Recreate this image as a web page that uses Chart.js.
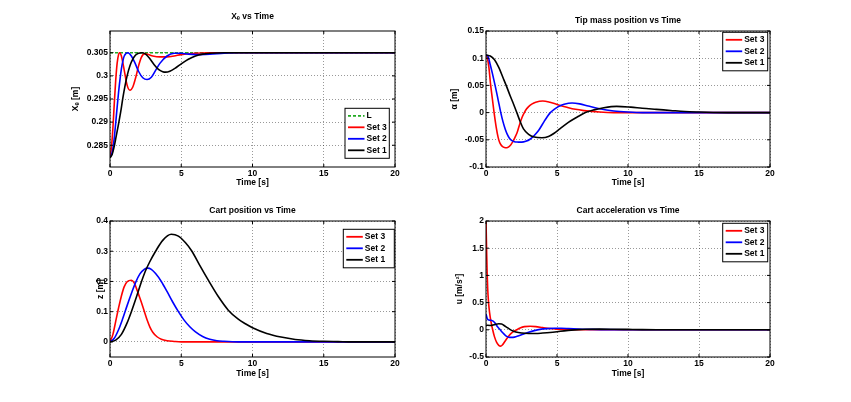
<!DOCTYPE html>
<html>
<head>
<meta charset="utf-8">
<title>Controller sets vs Time</title>
<script src="https://cdn.jsdelivr.net/npm/chart.js@4.4.0/dist/chart.umd.min.js"></script>
<style>
  html, body { margin: 0; padding: 0; background: #fff; }
  #fig { position: relative; width: 851px; height: 402px; overflow: hidden; background: #fff; }
  #fig canvas { position: absolute; }
</style>
</head>
<body>
<div id="fig">
  <canvas id="c-xe" width="425" height="200" style="left:0;top:0"></canvas>
  <canvas id="c-alpha" width="426" height="200" style="left:425px;top:0"></canvas>
  <canvas id="c-z" width="425" height="202" style="left:0;top:200px"></canvas>
  <canvas id="c-u" width="426" height="202" style="left:425px;top:200px"></canvas>
</div>
<script>
// ─── Data ───
const timeTicks = [0, 5, 10, 15, 20];

// Xe vs Time
const xeTicks = [0.285, 0.29, 0.295, 0.3, 0.305];
const xeLTime = [0, 20];
const xeL = [0.305, 0.305];
const xeTime3 = [0, 0.1, 0.2, 0.3, 0.4, 0.5, 0.6, 0.68, 0.8, 1.0, 1.2, 1.4, 1.6, 1.8, 2.0, 2.2, 2.45, 2.7, 3.0, 3.5, 4.0, 4.5, 5.0, 6.0, 7.0, 20];
const xeSet3 = [0.2825, 0.2845, 0.2885, 0.2940, 0.2990, 0.3027, 0.3046, 0.3050, 0.3043, 0.3012, 0.2980, 0.2969, 0.2976, 0.2996, 0.3021, 0.3040, 0.3048, 0.3046, 0.3043, 0.3041, 0.3041, 0.3043, 0.3046, 0.3049, 0.3050, 0.3050];
const xeTime2 = [0, 0.1, 0.2, 0.3, 0.4, 0.5, 0.6, 0.7, 0.8, 0.9, 1.0, 1.25, 1.5, 1.75, 2.0, 2.3, 2.6, 2.9, 3.2, 3.5, 4.0, 4.5, 5.0, 5.5, 6.0, 7.0, 8.0, 9.0, 20];
const xeSet2 = [0.2825, 0.2829, 0.2842, 0.2866, 0.2898, 0.2932, 0.2964, 0.2992, 0.3015, 0.3032, 0.3043, 0.3050, 0.3043, 0.3028, 0.3010, 0.2996, 0.2992, 0.2997, 0.3012, 0.3027, 0.3043, 0.3049, 0.3049, 0.3047, 0.3046, 0.3047, 0.3049, 0.3050, 0.3050];
const xeTime1 = [0, 0.15, 0.3, 0.45, 0.6, 0.75, 0.9, 1.05, 1.2, 1.4, 1.6, 1.8, 2.0, 2.25, 2.5, 2.8, 3.1, 3.4, 3.7, 3.9, 4.2, 4.6, 5.0, 5.5, 6.0, 6.5, 7.0, 8.0, 20];
const xeSet1 = [0.2823, 0.2830, 0.2848, 0.2872, 0.2896, 0.2922, 0.2952, 0.2978, 0.3000, 0.3022, 0.3036, 0.3045, 0.3049, 0.3050, 0.3047, 0.3037, 0.3024, 0.3014, 0.3009, 0.3008, 0.3010, 0.3017, 0.3026, 0.3036, 0.3043, 0.3047, 0.3049, 0.3050, 0.3050];

// Tip mass position vs Time
const alphaTicks = [-0.1, -0.05, 0, 0.05, 0.1, 0.15];
const alTime3 = [0, 0.1, 0.2, 0.33, 0.45, 0.57, 0.72, 0.85, 0.95, 1.05, 1.15, 1.3, 1.46, 1.6, 1.75, 1.9, 2.05, 2.2, 2.4, 2.55, 2.7, 2.85, 3.0, 3.25, 3.5, 4.0, 4.5, 5.0, 5.7, 6.3, 6.9, 8.0, 9.0, 20];
const alSet3 = [0.106, 0.100, 0.084, 0.050, 0.025, 0.000, -0.027, -0.045, -0.054, -0.059, -0.062, -0.0642, -0.0646, -0.063, -0.059, -0.053, -0.045, -0.036, -0.019, -0.008, 0.000, 0.0065, 0.011, 0.016, 0.019, 0.0213, 0.019, 0.015, 0.0098, 0.006, 0.0037, 0.001, 0, 0];
const alTime2 = [0, 0.15, 0.3, 0.45, 0.64, 0.85, 1.04, 1.2, 1.35, 1.5, 1.65, 1.8, 2.0, 2.25, 2.52, 2.8, 3.1, 3.4, 3.7, 4.1, 4.3, 4.53, 4.8, 5.1, 5.5, 6.06, 6.6, 7.2, 8.0, 9.0, 10, 11, 20];
const alSet2 = [0.106, 0.103, 0.088, 0.072, 0.050, 0.024, 0.000, -0.017, -0.030, -0.040, -0.047, -0.051, -0.0535, -0.0542, -0.0543, -0.0528, -0.049, -0.042, -0.033, -0.016, -0.008, 0.000, 0.006, 0.011, 0.0152, 0.0177, 0.016, 0.012, 0.007, 0.003, 0.001, 0, 0];
const alTime1 = [0, 0.3, 0.6, 0.9, 1.2, 1.42, 1.7, 1.95, 2.17, 2.4, 2.64, 3.0, 3.4, 3.94, 4.4, 4.8, 5.2, 5.8, 6.4, 7.0, 7.6, 8.3, 9.2, 10.2, 11, 12, 13, 14, 15, 16, 17, 20];
const alSet1 = [0.106, 0.104, 0.097, 0.083, 0.064, 0.050, 0.031, 0.015, 0.000, -0.016, -0.030, -0.040, -0.045, -0.0463, -0.044, -0.038, -0.030, -0.018, -0.0085, 0.000, 0.005, 0.009, 0.0115, 0.010, 0.008, 0.006, 0.004, 0.002, 0.001, 0.0003, 0, 0];

// Cart position vs Time
const zTicks = [0, 0.1, 0.2, 0.3, 0.4];
const zTime3 = [0, 0.2, 0.4, 0.6, 0.8, 1.0, 1.2, 1.5, 1.7, 1.85, 2.0, 2.2, 2.4, 2.6, 2.8, 3.0, 3.3, 3.6, 4.0, 4.5, 5.0, 20];
const zSet3 = [0, 0.024, 0.068, 0.112, 0.152, 0.183, 0.199, 0.204, 0.195, 0.178, 0.158, 0.131, 0.102, 0.073, 0.049, 0.032, 0.017, 0.009, 0.004, 0.0015, 0, 0];
const zTime2 = [0, 0.3, 0.6, 0.9, 1.2, 1.5, 1.8, 2.1, 2.4, 2.65, 2.9, 3.2, 3.6, 4.0, 4.4, 4.8, 5.2, 5.6, 6.0, 6.5, 7.0, 7.5, 8.0, 9.0, 20];
const zSet2 = [0, 0.012, 0.040, 0.078, 0.120, 0.160, 0.197, 0.225, 0.240, 0.244, 0.240, 0.226, 0.200, 0.167, 0.132, 0.100, 0.072, 0.050, 0.033, 0.018, 0.009, 0.004, 0.002, 0, 0];
const zTime1 = [0, 0.4, 0.8, 1.2, 1.5, 1.9, 2.2, 2.5, 2.8, 3.2, 3.7, 4.3, 4.8, 5.3, 5.75, 6.3, 6.95, 7.6, 8.3, 9.0, 9.5, 10, 11, 12, 13, 14, 15, 16, 17, 20];
const zSet1 = [0, 0.006, 0.025, 0.063, 0.100, 0.155, 0.198, 0.236, 0.266, 0.300, 0.336, 0.356, 0.350, 0.328, 0.300, 0.253, 0.200, 0.150, 0.105, 0.075, 0.060, 0.047, 0.028, 0.016, 0.008, 0.004, 0.002, 0.001, 0, 0];

// Cart acceleration vs Time
const uTicks = [-0.5, 0, 0.5, 1, 1.5, 2];
const uTime3 = [0, 0.04, 0.08, 0.12, 0.18, 0.25, 0.35, 0.47, 0.6, 0.75, 0.9, 1.03, 1.15, 1.34, 1.5, 1.7, 1.9, 2.16, 2.4, 2.7, 3.1, 3.5, 4.0, 4.5, 5.0, 5.5, 6.0, 7.0, 20];
const uSet3 = [2.0, 1.5, 1.05, 0.75, 0.50, 0.32, 0.15, 0.0, -0.13, -0.23, -0.285, -0.30, -0.28, -0.21, -0.15, -0.085, -0.04, 0.0, 0.033, 0.058, 0.065, 0.058, 0.040, 0.024, 0.013, 0.006, 0.003, 0, 0];
const uTime2 = [0, 0.05, 0.1, 0.2, 0.35, 0.5, 0.65, 0.8, 1.0, 1.2, 1.4, 1.6, 1.8, 2.0, 2.3, 2.6, 3.0, 3.4, 3.8, 4.3, 4.8, 5.3, 5.8, 6.5, 7.5, 8.5, 10, 20];
const uSet2 = [0.29, 0.24, 0.20, 0.18, 0.175, 0.16, 0.12, 0.06, 0.0, -0.06, -0.11, -0.135, -0.14, -0.135, -0.11, -0.08, -0.045, -0.015, 0.008, 0.022, 0.028, 0.028, 0.024, 0.016, 0.007, 0.003, 0, 0];
const uTime1 = [0, 0.3, 0.6, 0.9, 1.1, 1.3, 1.5, 1.8, 2.1, 2.5, 3.0, 3.5, 4.0, 4.5, 5.0, 5.5, 6.0, 6.5, 7.0, 8.0, 9.0, 10, 11, 12, 13, 14, 20];
const uSet1 = [0.085, 0.08, 0.095, 0.11, 0.105, 0.075, 0.04, -0.01, -0.04, -0.06, -0.068, -0.068, -0.06, -0.05, -0.036, -0.02, -0.006, 0.004, 0.01, 0.012, 0.01, 0.007, 0.004, 0.002, 0.001, 0, 0];

// ─── Styles ───
const FONT_SIZE = 8.5;
const LH = FONT_SIZE * 1.2;
const Y_W = 40;      // fixed width of the left axis box
const X_H = 30;      // fixed height of the bottom axis box
const COLORS = { 'L': '#22aa22', 'Set 3': '#ff0000', 'Set 2': '#0000ff', 'Set 1': '#000000' };

Chart.defaults.font.family = "'Liberation Sans', Arial, Helvetica, sans-serif";
Chart.defaults.font.size = FONT_SIZE;
Chart.defaults.font.weight = 'bold';
Chart.defaults.color = '#000';

function pts(t, v) {
    return t.map((x, i) => ({ x: x, y: v[i] }));
}

function fmt(v) {
    return String(Math.round(v * 1e6) / 1e6);
}

function series(label, t, v) {
    return {
        label: label,
        data: pts(t, v),
        borderColor: COLORS[label],
        borderWidth: 1.6,
        borderDash: label === 'L' ? [3, 2] : [],
        pointRadius: 0,
        cubicInterpolationMode: 'monotone',
        fill: false
    };
}

// ─── Frame, inner ticks and MATLAB-like legend box ───
const framePlugin = {
    id: 'frame',
    afterDraw(chart, args, opts) {
        const ctx = chart.ctx;
        const a = chart.chartArea;
        const xs = chart.scales.x, ys = chart.scales.y;
        ctx.save();
        ctx.strokeStyle = '#000';
        ctx.lineWidth = 1;
        ctx.strokeRect(a.left, a.top, a.right - a.left, a.bottom - a.top);
        ctx.beginPath();
        xs.ticks.forEach(t => {
            const px = xs.getPixelForValue(t.value);
            ctx.moveTo(px, a.bottom); ctx.lineTo(px, a.bottom - 3);
            ctx.moveTo(px, a.top); ctx.lineTo(px, a.top + 3);
        });
        ys.ticks.forEach(t => {
            const py = ys.getPixelForValue(t.value);
            ctx.moveTo(a.left, py); ctx.lineTo(a.left + 3, py);
            ctx.moveTo(a.right, py); ctx.lineTo(a.right - 3, py);
        });
        ctx.stroke();

        // legend
        const lg = opts.legend;
        if (lg) {
            const bx = a.left + lg.dx, by = a.top + lg.dy;
            const bh = 3 + lg.items.length * 11.5 + 1;
            ctx.fillStyle = '#fff';
            ctx.fillRect(bx, by, lg.w, bh);
            ctx.strokeStyle = '#000';
            ctx.lineWidth = 1;
            ctx.strokeRect(bx, by, lg.w, bh);
            ctx.font = 'bold ' + FONT_SIZE + 'px ' + Chart.defaults.font.family;
            ctx.textBaseline = 'middle';
            ctx.textAlign = 'left';
            lg.items.forEach((label, i) => {
                const cy = by + 7.5 + i * 11.5;
                ctx.beginPath();
                ctx.setLineDash(label === 'L' ? [3, 2] : []);
                ctx.strokeStyle = COLORS[label];
                ctx.lineWidth = 1.8;
                ctx.moveTo(bx + 3, cy);
                ctx.lineTo(bx + 19.5, cy);
                ctx.stroke();
                ctx.setLineDash([]);
                ctx.fillStyle = '#000';
                ctx.fillText(label, bx + 21.5, cy);
            });
        }
        ctx.restore();
    }
};

// ─── Panel builder ───
function panel(id, cfg) {
    const cv = cfg.canvas, ar = cfg.area;
    const padLeft = ar.l - cv.x - Y_W;
    const padRight = cv.x + cv.w - ar.r;
    const padBottom = cv.y + cv.h - ar.b - X_H;
    const titleTop = cfg.titleY - cv.y - LH / 2;
    const titleBottom = ar.t - cv.y - titleTop - LH;
    const yTitlePad = cfg.yLabelX - cv.x - padLeft - LH / 2;
    const xTitlePad = ar.b + X_H - LH / 2 - cfg.xLabelY;

    new Chart(document.getElementById(id), {
        type: 'line',
        data: { datasets: cfg.datasets },
        options: {
            responsive: false,
            animation: false,
            events: [],
            layout: { padding: { left: padLeft, right: padRight, top: 0, bottom: padBottom } },
            plugins: {
                legend: { display: false },
                tooltip: { enabled: false },
                title: {
                    display: true,
                    text: cfg.title,
                    fullSize: false,
                    padding: { top: titleTop, bottom: titleBottom },
                    font: { size: FONT_SIZE, weight: 'bold' },
                    color: '#000'
                },
                frame: { legend: cfg.legend }
            },
            scales: {
                x: {
                    type: 'linear',
                    min: 0,
                    max: 20,
                    afterBuildTicks: s => { s.ticks = timeTicks.map(v => ({ value: v })); },
                    afterFit: s => { s.height = X_H; },
                    ticks: { autoSkip: false, maxRotation: 0, padding: 2, callback: v => fmt(v) },
                    grid: { color: 'rgba(0,0,0,0.4)', lineWidth: 1, drawTicks: false },
                    border: { display: false, dash: [1, 2] },
                    title: { display: true, text: 'Time [s]', padding: { top: 0, bottom: xTitlePad } }
                },
                y: {
                    type: 'linear',
                    min: cfg.yMin,
                    max: cfg.yMax,
                    afterBuildTicks: s => { s.ticks = cfg.yTicks.map(v => ({ value: v })); },
                    afterFit: s => { s.width = Y_W; },
                    ticks: { autoSkip: false, padding: 2, callback: v => fmt(v) },
                    grid: { color: 'rgba(0,0,0,0.4)', lineWidth: 1, drawTicks: false },
                    border: { display: false, dash: [1, 2] },
                    title: { display: true, text: cfg.yLabel, padding: { top: yTitlePad, bottom: 0 } }
                }
            }
        },
        plugins: [framePlugin]
    });
}

// datasets listed top-most first (Chart.js draws index 0 last)
panel('c-xe', {
    canvas: { x: 0, y: 0, w: 425, h: 200 },
    area: { l: 110, t: 31, r: 395, b: 167 },
    title: 'X\u2091 vs Time', titleY: 16.5,
    yLabel: 'X\u2091 [m]', yLabelX: 75.7, xLabelY: 182.7,
    yMin: 0.2803, yMax: 0.3097, yTicks: xeTicks,
    datasets: [
        series('Set 1', xeTime1, xeSet1),
        series('Set 2', xeTime2, xeSet2),
        series('Set 3', xeTime3, xeSet3),
        series('L', xeLTime, xeL)
    ],
    legend: { dx: 235, dy: 77.3, w: 44.3, items: ['L', 'Set 3', 'Set 2', 'Set 1'] }
});

panel('c-alpha', {
    canvas: { x: 425, y: 0, w: 426, h: 200 },
    area: { l: 486, t: 31, r: 770, b: 167 },
    title: 'Tip mass position vs Time', titleY: 20.7,
    yLabel: '\u03b1 [m]', yLabelX: 455, xLabelY: 182.7,
    yMin: -0.1, yMax: 0.15, yTicks: alphaTicks,
    datasets: [
        series('Set 1', alTime1, alSet1),
        series('Set 2', alTime2, alSet2),
        series('Set 3', alTime3, alSet3)
    ],
    legend: { dx: 236.7, dy: 1.3, w: 45, items: ['Set 3', 'Set 2', 'Set 1'] }
});

panel('c-z', {
    canvas: { x: 0, y: 200, w: 425, h: 202 },
    area: { l: 110, t: 221, r: 395, b: 357 },
    title: 'Cart position vs Time', titleY: 210.7,
    yLabel: 'z [m]', yLabelX: 100.5, xLabelY: 373.3,
    yMin: -0.05, yMax: 0.4, yTicks: zTicks,
    datasets: [
        series('Set 1', zTime1, zSet1),
        series('Set 2', zTime2, zSet2),
        series('Set 3', zTime3, zSet3)
    ],
    legend: { dx: 233.3, dy: 8.3, w: 51, items: ['Set 3', 'Set 2', 'Set 1'] }
});

panel('c-u', {
    canvas: { x: 425, y: 200, w: 426, h: 202 },
    area: { l: 486, t: 221, r: 770, b: 357 },
    title: 'Cart acceleration vs Time', titleY: 210.7,
    yLabel: 'u [m/s\u00b2]', yLabelX: 459.3, xLabelY: 373.3,
    yMin: -0.5, yMax: 2, yTicks: uTicks,
    datasets: [
        series('Set 1', uTime1, uSet1),
        series('Set 2', uTime2, uSet2),
        series('Set 3', uTime3, uSet3)
    ],
    legend: { dx: 236.7, dy: 2.3, w: 45, items: ['Set 3', 'Set 2', 'Set 1'] }
});
</script>
</body>
</html>
